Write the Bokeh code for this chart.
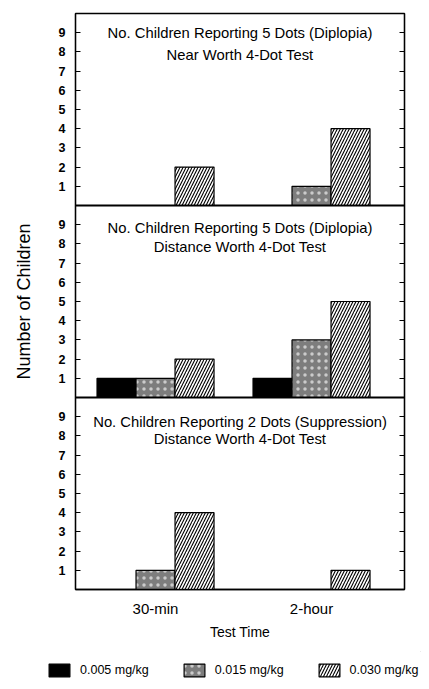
from bokeh.plotting import figure
from bokeh.models import (Range1d, FixedTicker, LinearAxis, Span, Legend, LegendItem,
                          ColumnDataSource)
from bokeh.transform import dodge
from bokeh.core.properties import value
from bokeh.embed import file_html
from bokeh.resources import INLINE

# ---------------- data ----------------
test_times = ["30-min", "2-hour"]
doses = ["0.005 mg/kg", "0.015 mg/kg", "0.030 mg/kg"]

panel_titles = [
    ("No. Children Reporting 5 Dots (Diplopia)", "Near Worth 4-Dot Test"),
    ("No. Children Reporting 5 Dots (Diplopia)", "Distance Worth 4-Dot Test"),
    ("No. Children Reporting 2 Dots (Suppression)", "Distance Worth 4-Dot Test"),
]
# counts per panel, per dose, for [30-min, 2-hour]
near_diplopia = {"0.005 mg/kg": [0, 0], "0.015 mg/kg": [0, 1], "0.030 mg/kg": [2, 4]}
dist_diplopia = {"0.005 mg/kg": [1, 1], "0.015 mg/kg": [1, 3], "0.030 mg/kg": [2, 5]}
dist_suppression = {"0.005 mg/kg": [0, 0], "0.015 mg/kg": [1, 0], "0.030 mg/kg": [4, 1]}
panels = [near_diplopia, dist_diplopia, dist_suppression]

y_tick_labels = ["1", "2", "3", "4", "5", "6", "7", "8", "9"]
panel_span = 10  # each panel covers 0..10 on its own axis

FONT = "Liberation Sans"

# ---------------- main figure ----------------
W, H_MAIN, H_LEG = 421, 651, 30
p = figure(width=W, height=H_MAIN, output_backend="svg", toolbar_location=None,
           x_range=Range1d(-0.513, 1.596), y_range=Range1d(0, 3 * panel_span),
           min_border_left=75, min_border_right=17, min_border_top=13,
           min_border_bottom=62)
p.grid.visible = False
p.outline_line_color = "black"
p.outline_line_width = 1.3
p.background_fill_color = "white"
p.border_fill_color = "white"

npan = len(panels)
ticks, overrides = [], {}
for k in range(npan):
    base = (npan - 1 - k) * panel_span
    for lab in y_tick_labels:
        t = base + int(lab)
        ticks.append(t)
        overrides[t] = lab

yax = p.yaxis[0]
yax.ticker = FixedTicker(ticks=ticks)
yax.major_label_overrides = overrides
yax.major_tick_in = 5
yax.major_tick_out = 0
yax.minor_tick_line_color = None
yax.major_label_standoff = 10
yax.major_label_text_font = FONT
yax.major_label_text_font_size = "12.5px"
yax.major_label_text_font_style = "bold"
yax.major_label_text_color = "black"
yax.axis_line_width = 1.3
yax.axis_label = "Number of Children"
yax.axis_label_text_font = FONT
yax.axis_label_text_font_size = "18px"
yax.axis_label_text_font_style = "normal"
yax.axis_label_text_color = "black"
yax.axis_label_standoff = 22

rax = LinearAxis(ticker=FixedTicker(ticks=ticks), major_tick_in=5, major_tick_out=0,
                 minor_tick_line_color=None, major_label_text_color=None,
                 major_label_text_font_size="1px", axis_line_width=1.3)
p.add_layout(rax, "right")

xax = p.xaxis[0]
xax.ticker = FixedTicker(ticks=list(range(len(test_times))))
xax.major_label_overrides = {i: t for i, t in enumerate(test_times)}
xax.major_tick_line_color = None
xax.minor_tick_line_color = None
xax.major_label_standoff = 4
xax.major_label_text_font = FONT
xax.major_label_text_font_size = "15px"
xax.major_label_text_color = "black"
xax.axis_line_width = 1.3
xax.axis_label = "Test Time"
xax.axis_label_text_font = FONT
xax.axis_label_text_font_size = "14px"
xax.axis_label_text_font_style = "normal"
xax.axis_label_text_color = "black"
xax.axis_label_standoff = 4

for k in range(1, npan):
    p.add_layout(Span(location=k * panel_span, dimension="width",
                      line_color="black", line_width=2))

styles = {
    "0.005 mg/kg": dict(fill_color="black"),
    "0.015 mg/kg": dict(fill_color="#7d7d7d", hatch_pattern="dot", hatch_color="white",
                        hatch_scale=7, hatch_weight=1.2, hatch_alpha=0.6),
    "0.030 mg/kg": dict(fill_color="white", hatch_pattern="/", hatch_color="black",
                        hatch_scale=6, hatch_weight=1.1),
}
offsets = [-0.25, 0.0, 0.25]
for d, off in zip(doses, offsets):
    xs, tops, bottoms = [], [], []
    for k, panel in enumerate(panels):
        base = (npan - 1 - k) * panel_span
        for i, v in enumerate(panel[d]):
            xs.append(i)
            bottoms.append(base)
            tops.append(base + v)
    src = ColumnDataSource(dict(x=xs, top=tops, bottom=bottoms))
    p.vbar(x=dodge("x", off, range=p.x_range), top="top", bottom="bottom",
           width=0.25, source=src, line_color="black", line_width=1.2, **styles[d])

line1_pos = [8.96, 8.85, 8.72]
line2_pos = [7.85, 7.82, 7.82]
tx, ty, tt = [], [], []
xc = (p.x_range.start + p.x_range.end) / 2
for k, (l1, l2) in enumerate(panel_titles):
    base = (npan - 1 - k) * panel_span
    tx += [xc, xc]
    ty += [base + line1_pos[k], base + line2_pos[k]]
    tt += [l1, l2]
p.text(x=tx, y=ty, text=tt, text_align="center", text_baseline="middle",
       text_font=value(FONT), text_font_size="14.8px", text_color="black")

# ---------------- legend strip (separate root) ----------------
lf = figure(width=W, height=H_LEG, output_backend="svg", toolbar_location=None,
            x_range=Range1d(0, 1), y_range=Range1d(0, 1),
            x_axis_type=None, y_axis_type=None,
            min_border_left=0, min_border_right=0,
            min_border_top=0, min_border_bottom=0)
lf.grid.visible = False
lf.outline_line_color = None
lf.border_fill_color = "white"
lf.background_fill_color = "white"
items = []
for d in doses:
    r = lf.vbar(x=[5], top=[2], bottom=[1.5], width=0.1, line_color="black",
                line_width=1.2, **styles[d])
    items.append(LegendItem(label=d, renderers=[r]))
leg = Legend(items=items, orientation="horizontal", location=(46, 3),
             label_text_font=FONT, label_text_font_size="12.5px",
             label_text_color="black",
             glyph_width=26, glyph_height=16, label_standoff=8, spacing=32,
             padding=0, margin=0, border_line_color=None, background_fill_alpha=0)
lf.add_layout(leg)

open("out.html", "w").write(file_html([p, lf], INLINE))
